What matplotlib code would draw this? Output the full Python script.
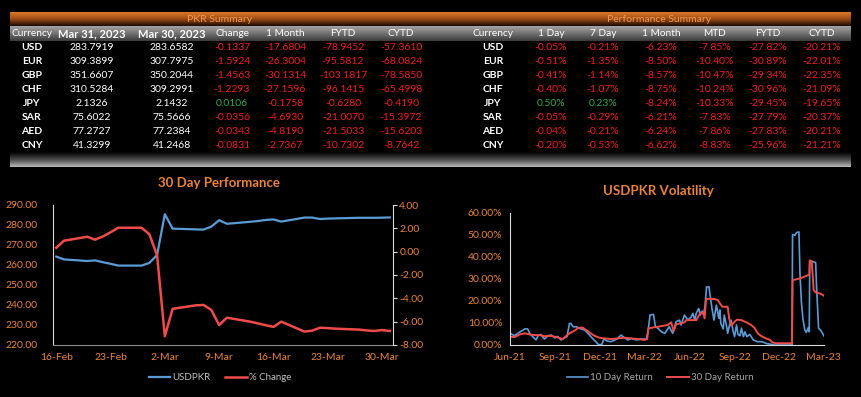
import matplotlib.pyplot as plt
import matplotlib.colors as mcolors
import matplotlib.dates as mdates
import numpy as np
import pandas as pd
from matplotlib.ticker import FuncFormatter, MultipleLocator

plt.rcParams['font.family'] = ['Lato', 'DejaVu Sans']

ORANGE = '#E8843C'
WHITE = '#FFFFFF'
NEG = '#F01E1E'
POS = '#2EA84A'
BLUE = '#5B9BD5'
RED = '#F04B4B'

# ---- summary tables ----
currencies = ["USD", "EUR", "GBP", "CHF", "JPY", "SAR", "AED", "CNY"]

pkr_headers = ["Currency", "Mar 31, 2023", "Mar 30, 2023", "Change", "1 Month", "FYTD", "CYTD"]
rate_mar31 = [283.7919, 309.3899, 351.6607, 310.5284, 2.1326, 75.6022, 77.2727, 41.3299]
rate_mar30 = [283.6582, 307.7975, 350.2044, 309.2991, 2.1432, 75.5666, 77.2384, 41.2468]
chg_1d = [-0.1337, -1.5924, -1.4563, -1.2293, 0.0106, -0.0356, -0.0343, -0.0831]
chg_1m = [-17.6804, -26.3004, -30.1314, -27.1596, -0.1758, -4.6930, -4.8190, -2.7367]
chg_fytd = [-78.9452, -95.5812, -103.1817, -96.1415, -0.6280, -21.0070, -21.5033, -10.7302]
chg_cytd = [-57.3610, -68.0824, -78.5850, -65.4998, -0.4190, -15.3972, -15.6203, -8.7642]

perf_headers = ["Currency", "1 Day", "7 Day", "1 Month", "MTD", "FYTD", "CYTD"]
perf_1d = [-0.05, -0.51, -0.41, -0.40, 0.50, -0.05, -0.04, -0.20]
perf_7d = [-0.21, -1.35, -1.14, -1.07, 0.23, -0.29, -0.21, -0.53]
perf_1m = [-6.23, -8.50, -8.57, -8.75, -8.24, -6.21, -6.24, -6.62]
perf_mtd = [-7.85, -10.40, -10.47, -10.24, -10.33, -7.83, -7.86, -8.83]
perf_fytd = [-27.82, -30.89, -29.34, -30.96, -29.45, -27.79, -27.83, -25.96]
perf_cytd = [-20.21, -22.01, -22.35, -21.09, -19.65, -20.37, -20.21, -21.21]

# ---- 30 day performance ----
perf_dates = ["2023-02-16", "2023-02-17", "2023-02-20", "2023-02-21", "2023-02-22",
              "2023-02-23", "2023-02-24", "2023-02-27", "2023-02-28", "2023-03-01",
              "2023-03-02", "2023-03-03", "2023-03-06", "2023-03-07", "2023-03-08",
              "2023-03-09", "2023-03-10", "2023-03-13", "2023-03-14", "2023-03-15",
              "2023-03-16", "2023-03-17", "2023-03-20", "2023-03-21", "2023-03-22",
              "2023-03-23", "2023-03-24", "2023-03-27", "2023-03-28", "2023-03-29",
              "2023-03-30", "2023-03-31"]
usdpkr = [264.2, 262.8, 262.0, 262.3, 261.4, 260.6, 259.7, 259.7, 261.0, 265.0,
          285.4, 278.2, 277.8, 277.7, 279.2, 282.4, 280.6, 281.6, 282.0, 282.5,
          282.8, 281.7, 283.7, 283.7, 283.0, 283.2, 283.3, 283.6, 283.6, 283.6,
          283.66, 283.79]
pct_change = [0.34, 0.94, 1.28, 1.03, 1.30, 1.66, 2.05, 2.05, 1.50, -0.30,
              -7.25, -4.90, -4.60, -4.57, -5.00, -6.29, -5.66, -6.00, -6.15, -6.30,
              -6.45, -6.00, -6.85, -6.77, -6.52, -6.55, -6.60, -6.68, -6.75, -6.80,
              -6.72, -6.80]

# ---- USDPKR volatility (%) ----
vol10_dates = ["2021-07-01", "2021-07-09", "2021-07-16", "2021-07-23", "2021-07-30",
               "2021-08-05", "2021-08-09", "2021-08-15", "2021-08-22", "2021-08-26",
               "2021-09-01", "2021-09-08", "2021-09-15", "2021-09-22", "2021-09-29",
               "2021-10-05", "2021-10-12", "2021-10-19", "2021-10-24", "2021-10-29",
               "2021-11-01", "2021-11-05", "2021-11-12", "2021-11-18", "2021-11-29",
               "2021-12-09", "2021-12-16", "2021-12-23", "2021-12-28", "2022-01-03",
               "2022-01-07", "2022-01-14", "2022-01-21", "2022-01-28", "2022-02-04",
               "2022-02-11", "2022-02-18", "2022-02-25", "2022-03-04", "2022-03-14",
               "2022-03-24", "2022-04-04", "2022-04-08", "2022-04-11", "2022-04-18",
               "2022-04-22", "2022-04-27", "2022-05-04", "2022-05-11", "2022-05-20",
               "2022-05-27", "2022-06-03", "2022-06-10", "2022-06-13", "2022-06-20",
               "2022-06-27", "2022-07-04", "2022-07-07", "2022-07-11", "2022-07-14",
               "2022-07-19", "2022-07-22", "2022-07-26", "2022-07-29", "2022-08-01",
               "2022-08-04", "2022-08-09", "2022-08-11", "2022-08-15", "2022-08-19",
               "2022-08-24", "2022-08-29", "2022-08-31", "2022-09-02", "2022-09-07",
               "2022-09-09", "2022-09-14", "2022-09-16", "2022-09-20", "2022-09-23",
               "2022-09-27", "2022-09-30", "2022-10-04", "2022-10-07", "2022-10-11",
               "2022-10-14", "2022-10-18", "2022-10-21", "2022-10-25", "2022-10-31",
               "2022-11-07", "2022-11-16", "2022-11-25", "2022-12-05", "2022-12-14",
               "2022-12-20", "2023-01-25", "2023-01-26", "2023-01-31", "2023-02-03",
               "2023-02-08", "2023-02-10", "2023-02-13", "2023-02-16", "2023-02-20",
               "2023-02-23", "2023-02-27", "2023-03-01", "2023-03-02", "2023-03-09",
               "2023-03-14", "2023-03-16", "2023-03-20", "2023-03-24", "2023-03-28",
               "2023-03-31"]
vol10 = [5.3, 4.2, 5.3, 6.3, 7.3, 7.3, 5.3, 3.8, 2.3, 4.2,
         4.8, 2.7, 4.2, 4.5, 3.3, 3.9, 2.3, 3.3, 3.8, 9.8,
         9.8, 8.3, 8.3, 7.6, 6.8, 4.5, 2.7, 1.2, 0.0, 0.3,
         2.7, 1.8, 1.5, 2.1, 3.0, 4.5, 3.3, 2.3, 3.0, 2.3,
         2.7, 2.7, 8.3, 13.6, 13.9, 8.3, 7.6, 6.0, 5.3, 8.3,
         5.3, 10.6, 11.3, 9.1, 13.6, 11.3, 12.8, 14.4, 11.3, 14.4,
         16.6, 13.6, 15.4, 13.6, 18.1, 26.4, 26.4, 23.0, 16.6, 11.3,
         18.1, 12.1, 15.9, 9.8, 7.3, 13.6, 8.3, 5.3, 9.4, 11.3,
         6.3, 3.8, 9.1, 4.8, 4.2, 7.6, 3.8, 6.0, 3.8, 4.8,
         2.3, 1.5, 1.5, 0.6, 0.3, 0.0, 0.0, 50.2, 49.9, 51.1,
         51.4, 33.2, 19.6, 12.1, 6.8, 5.7, 7.9, 6.0, 38.1, 37.8,
         37.5, 25.7, 7.6, 6.8, 5.3, 4.1]

vol30_dates = ["2021-07-01", "2021-07-09", "2021-07-20", "2021-07-30", "2021-08-09",
               "2021-08-19", "2021-08-29", "2021-09-08", "2021-09-18", "2021-09-29",
               "2021-10-07", "2021-10-15", "2021-10-22", "2021-10-29", "2021-11-09",
               "2021-11-17", "2021-11-25", "2021-12-02", "2021-12-11", "2021-12-19",
               "2021-12-29", "2022-01-08", "2022-01-22", "2022-02-04", "2022-02-18",
               "2022-03-04", "2022-03-17", "2022-03-31", "2022-04-05", "2022-04-08",
               "2022-04-16", "2022-04-27", "2022-05-17", "2022-05-24", "2022-05-29",
               "2022-06-03", "2022-06-20", "2022-06-24", "2022-07-14", "2022-07-19",
               "2022-07-23", "2022-07-28", "2022-07-31", "2022-08-03", "2022-08-20",
               "2022-08-27", "2022-08-30", "2022-09-05", "2022-09-16", "2022-09-19",
               "2022-09-23", "2022-09-30", "2022-10-05", "2022-10-14", "2022-10-24",
               "2022-11-03", "2022-11-10", "2022-11-16", "2022-11-23", "2022-12-03",
               "2022-12-11", "2022-12-16", "2022-12-23", "2023-01-25", "2023-01-26",
               "2023-02-09", "2023-02-23", "2023-03-01", "2023-03-02", "2023-03-06",
               "2023-03-10", "2023-03-14", "2023-03-23", "2023-03-31"]
vol30 = [3.8, 3.6, 4.8, 5.3, 4.8, 4.5, 4.5, 4.0, 4.2, 3.8,
         3.3, 2.7, 4.0, 5.3, 6.6, 7.9, 7.9, 6.8, 5.3, 4.2,
         3.3, 3.0, 2.7, 3.0, 3.3, 3.0, 2.7, 2.3, 2.7, 7.6,
         7.9, 8.3, 9.1, 10.3, 6.3, 9.4, 10.3, 11.3, 11.3, 13.3,
         14.8, 14.8, 12.1, 20.9, 20.9, 20.4, 19.3, 17.4, 17.4, 12.1,
         8.8, 10.6, 11.5, 11.3, 10.3, 9.1, 7.6, 5.3, 4.1, 3.0,
         2.3, 1.2, 0.8, 0.8, 29.5, 30.2, 31.4, 32.0, 38.5, 38.1,
         24.9, 23.9, 23.4, 22.4]
vol_ticks = ["2021-06-30", "2021-09-30", "2021-12-30", "2022-03-30",
             "2022-06-30", "2022-09-30", "2022-12-30", "2023-03-30"]

W, H = 861, 397
fig = plt.figure(figsize=(W / 100, H / 100), dpi=100, facecolor='black')

# background layer in pixel units for the table blocks
bg = fig.add_axes([0, 0, 1, 1])
bg.axis('off')
bg.set_facecolor('black')


def gradient_bar(ax, x0, x1, y0, y1, stops):
    cols = [np.array(mcolors.to_rgb(c)) for c in stops]
    n = 60
    t = np.linspace(0, 1, n)
    pos = np.linspace(0, 1, len(cols))
    img = np.zeros((n, 1, 3))
    for k in range(3):
        img[:, 0, k] = np.interp(t, pos, [c[k] for c in cols])
    ax.imshow(img, extent=(x0, x1, y1, y0), aspect='auto', interpolation='bilinear', zorder=1)


gradient_bar(bg, 10, 851, 12, 26, ['#E07828', '#9A4A14', '#1A0A02'])
gradient_bar(bg, 10, 851, 26, 41, ['#A4A4A4', '#727272', '#3A3A3A'])
gradient_bar(bg, 10, 851, 152, 167, ['#000000', '#4A4A4A', '#B8B8B8'])
bg.set_xlim(0, W)
bg.set_ylim(H, 0)

bg.text(220, 19, "PKR Summary", ha='center', va='center', color='#F39A50', fontsize=7.5, zorder=3)
bg.text(659, 19, "Performance Summary", ha='center', va='center', color='#F39A50', fontsize=7.5, zorder=3)

pkr_x = [32, 92, 172, 232, 285, 343, 401]
perf_x = [493, 551, 603, 661, 715, 768, 822]
row_y = [48 + 14 * i for i in range(len(currencies))]

for j, h in enumerate(pkr_headers):
    if j in (1, 2):
        bg.text(pkr_x[j], 33.5, h, ha='center', va='center', color=WHITE, fontsize=8,
                fontweight='bold', zorder=3)
    else:
        bg.text(pkr_x[j], 33.5, h, ha='center', va='center', color=WHITE, fontsize=7.3, zorder=3)
for j, h in enumerate(perf_headers):
    bg.text(perf_x[j], 33.5, h, ha='center', va='center', color=WHITE, fontsize=7.3, zorder=3)


def sign_color(v):
    return POS if v > 0 else NEG


for i, cur in enumerate(currencies):
    y = row_y[i]
    bg.text(pkr_x[0], y, cur, ha='center', va='center', color=WHITE, fontsize=7.5, fontweight='bold', zorder=3)
    bg.text(pkr_x[1], y, f"{rate_mar31[i]:.4f}", ha='center', va='center', color=WHITE, fontsize=7.5, zorder=3)
    bg.text(pkr_x[2], y, f"{rate_mar30[i]:.4f}", ha='center', va='center', color=WHITE, fontsize=7.5, zorder=3)
    for j, vals in enumerate([chg_1d, chg_1m, chg_fytd, chg_cytd]):
        v = vals[i]
        bg.text(pkr_x[3 + j], y, f"{v:.4f}", ha='center', va='center', color=sign_color(v),
                fontsize=7.5, zorder=3)
    bg.text(perf_x[0], y, cur, ha='center', va='center', color=WHITE, fontsize=7.5, fontweight='bold', zorder=3)
    for j, vals in enumerate([perf_1d, perf_7d, perf_1m, perf_mtd, perf_fytd, perf_cytd]):
        v = vals[i]
        bg.text(perf_x[1 + j], y, f"{v:.2f}%", ha='center', va='center', color=sign_color(v),
                fontsize=7.5, zorder=3)

# ---------- 30 Day Performance ----------
pd_dates = pd.to_datetime(perf_dates)
ax1 = fig.add_axes([53 / W, 1 - 345 / H, 340 / W, 140 / H])
ax1.set_facecolor('black')
ax2 = ax1.twinx()

l1, = ax1.plot(pd_dates, usdpkr, color=BLUE, lw=1.6, label="USDPKR")
l2, = ax2.plot(pd_dates, pct_change, color=RED, lw=1.8, label="% Change")

ax1.set_xlim(pd_dates[0] - pd.Timedelta(hours=10), pd_dates[-1] + pd.Timedelta(hours=10))
ax1.set_ylim(220, 290)
ax1.yaxis.set_major_locator(MultipleLocator(10))
ax2.set_ylim(-8, 4)
ax2.yaxis.set_major_locator(MultipleLocator(2))
fmt2 = FuncFormatter(lambda v, p: f"{v:.2f}")
ax1.yaxis.set_major_formatter(fmt2)
ax2.yaxis.set_major_formatter(fmt2)


def day_mon(v, p):
    d = mdates.num2date(v)
    return f"{d.day}-{d.strftime('%b')}"


xt = pd.date_range("2023-02-16", "2023-03-30", freq="7D")
ax1.set_xticks(xt)
ax1.xaxis.set_major_formatter(FuncFormatter(day_mon))

ax1.spines['top'].set_visible(False)
ax2.spines['top'].set_visible(False)
ax1.spines['right'].set_visible(False)
ax2.spines['left'].set_visible(False)
ax2.spines['bottom'].set_visible(False)
ax1.spines['left'].set_color('#D9D9D9')
ax1.spines['bottom'].set_color('#8C8C8C')
ax2.spines['right'].set_color('#D9D9D9')

ax1.tick_params(axis='y', length=0, pad=11, labelsize=7.5, labelcolor=ORANGE)
ax1.tick_params(axis='x', length=0, pad=6, labelsize=7.5, labelcolor=ORANGE)
ax2.tick_params(axis='y', length=3, color='#D9D9D9', pad=1.5, labelsize=7.5, labelcolor=ORANGE)

fig.text(219 / W, 1 - 183 / H, "30 Day Performance", ha='center', va='center',
         color=ORANGE, fontsize=9.5, fontweight='bold')
fig.legend(handles=[l1, l2], loc='center', bbox_to_anchor=(220 / W, 1 - 378 / H), ncol=2,
           frameon=False, fontsize=7, labelcolor='#BFBFBF', handlelength=2.2,
           handletextpad=0.2, columnspacing=1.5)

# ---------- USDPKR Volatility ----------
v10d = pd.to_datetime(vol10_dates)
v30d = pd.to_datetime(vol30_dates)
ax3 = fig.add_axes([510 / W, 1 - 345 / H, 314 / W, 132 / H])
ax3.set_facecolor('black')
m1, = ax3.plot(v10d, vol10, color=BLUE, lw=1.2, label="10 Day Return")
m2, = ax3.plot(v30d, vol30, color=RED, lw=1.4, label="30 Day Return")
ax3.set_xlim(pd.Timestamp("2021-06-30"), pd.Timestamp("2023-03-31"))
ax3.set_ylim(0, 60)
ax3.yaxis.set_major_locator(MultipleLocator(10))
ax3.yaxis.set_major_formatter(FuncFormatter(lambda v, p: f"{v:.2f}%"))
ax3.set_xticks(pd.to_datetime(vol_ticks))
ax3.set_xticklabels([pd.Timestamp(d).strftime("%b-%y") for d in vol_ticks])
ax3.spines['top'].set_visible(False)
ax3.spines['right'].set_visible(False)
ax3.spines['left'].set_color('#D9D9D9')
ax3.spines['bottom'].set_color('#D9D9D9')
ax3.tick_params(axis='y', length=0, pad=5.5, labelsize=7.5, labelcolor=ORANGE)
ax3.tick_params(axis='x', length=0, pad=6, labelsize=7.5, labelcolor=ORANGE)

fig.text(658 / W, 1 - 191 / H, "USDPKR Volatility", ha='center', va='center',
         color=ORANGE, fontsize=9.5, fontweight='bold')
fig.legend(handles=[m1, m2], loc='center', bbox_to_anchor=(660 / W, 1 - 378 / H), ncol=2,
           frameon=False, fontsize=7, labelcolor='#A6A6A6', handlelength=2.2,
           handletextpad=0.2, columnspacing=1.5)

fig.savefig("out.png", dpi=100, facecolor='black')
